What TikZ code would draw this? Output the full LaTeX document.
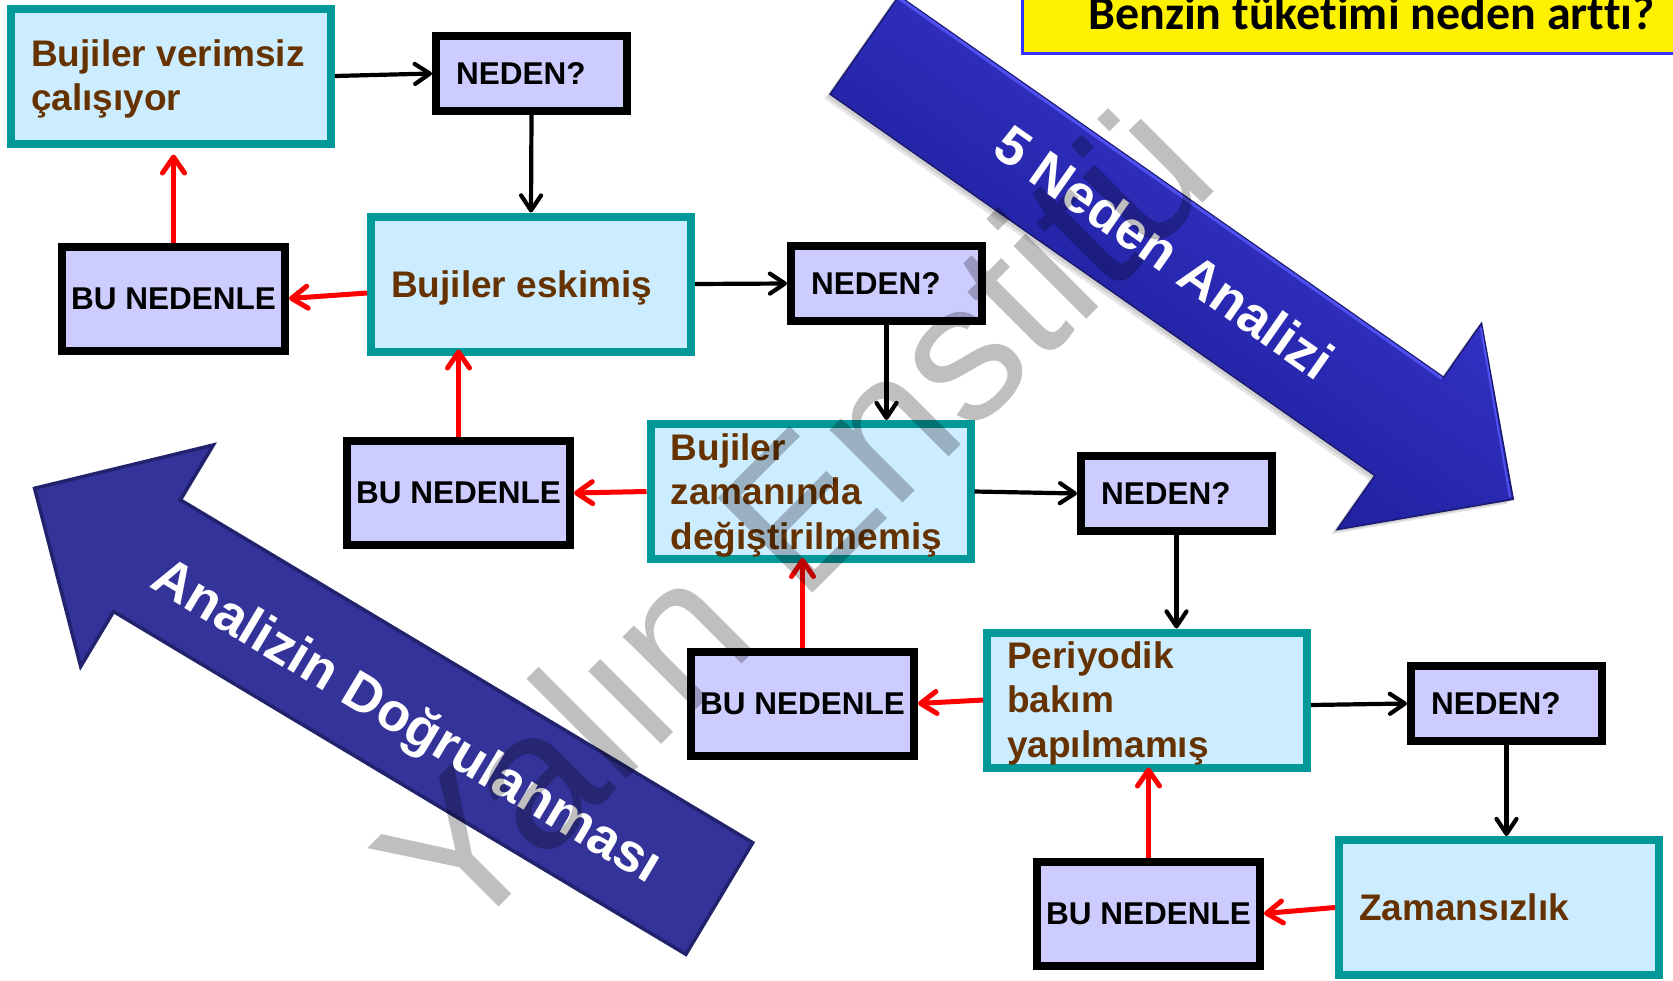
\documentclass[tikz,border=0pt]{standalone}
\usepackage{fontspec}
\setmainfont{Liberation Sans}
\newfontfamily\titlefont[Ligatures=NoCommon]{Carlito}
\usetikzlibrary{arrows.meta,calc}

\definecolor{tealb}{HTML}{009999}
\definecolor{skyf}{HTML}{CCECFF}
\definecolor{lavf}{HTML}{CCCCFF}
\definecolor{brownt}{HTML}{663300}
\definecolor{navyf}{HTML}{333399}
\definecolor{navyd}{HTML}{22226E}
\definecolor{titleb}{HTML}{3333FF}
\definecolor{blueA}{HTML}{3232C4}
\definecolor{blueB}{HTML}{2A2AB4}
\definecolor{blueC}{HTML}{2020A0}
\definecolor{blueD}{HTML}{1A1A70}
\definecolor{blueE}{HTML}{5050F0}

% outline of the "5 Neden Analizi" arrow in its own frame (u along the axis)
\def\whyarrow{(0,-60) -- (665,-60) -- (665,-126) -- (792,0) -- (665,126) -- (665,60) -- (0,60) -- cycle}

\begin{document}
\begin{tikzpicture}[x=1pt,y=-1pt,
  cause/.style={draw=tealb, fill=skyf, line width=8pt, minimum width=320pt, minimum height=135pt, inner sep=0pt},
  why/.style={draw=black, fill=lavf, line width=8pt, minimum width=191pt, minimum height=75pt, inner sep=0pt},
  hence/.style={draw=black, fill=lavf, line width=8pt, minimum width=223pt, minimum height=104pt, inner sep=0pt,
    font=\bfseries\fontsize{31.5pt}{36pt}\selectfont},
  ctext/.style={anchor=base west, inner sep=0pt, text=brownt, font=\bfseries\fontsize{37pt}{44pt}\selectfont},
  wtext/.style={anchor=base west, inner sep=0pt, font=\bfseries\fontsize{31.5pt}{36pt}\selectfont},
  fwd/.style={draw=black, line width=4.2pt, -{Straight Barb[length=15pt,width=20pt,round]}},
  back/.style={draw=red, line width=5pt, -{Straight Barb[length=16pt,width=22pt,round]}},
  bigtext/.style={text=white, inner sep=0pt, font=\bfseries\fontsize{54pt}{60pt}\selectfont},
]
\useasboundingbox (0,0) rectangle (1673,980);
\clip (0,0) rectangle (1673,980);

% title banner
\node[draw=titleb, fill=yellow, line width=2.5pt, anchor=north west,
      minimum width=690pt, minimum height=72pt] (Q) at (1021,-20) {};
\node[anchor=base west, inner sep=0pt, font=\titlefont\bfseries\fontsize{48pt}{52pt}\selectfont]
      (Qt) at (1088,29.5) {Benzin tüketimi neden arttı?};

% big arrow: 5 Neden Analizi
\begin{scope}[transform canvas={shift={(864.5,45)},rotate=-35}]
  \fill[black, opacity=0.10, shift={(-2,7)}] \whyarrow;
  \fill[black, opacity=0.10, shift={(-1,4)}] \whyarrow;
  \shade[top color=blueA, middle color=blueB, bottom color=blueC] \whyarrow;
  \draw[blueD, line width=1.5pt, line join=miter] \whyarrow;
  \draw[blueE, line width=3pt] (0,-58) -- (664,-58);
  \draw[blueE, line width=2pt] (667,-122) -- (788,0);
  \node[bigtext, anchor=base] (whylabel) at (364.5,16.7) {5 Neden Analizi};
\end{scope}

% big arrow: Analizin Doğrulanması
\draw[fill=navyf, draw=navyd, line width=3.5pt, line join=miter]
  (34.6,488.3) -- (213.3,445.0) -- (180.4,499.9) -- (752.7,842.7)
  -- (685.9,954.3) -- (113.6,611.5) -- (80.7,666.4) -- cycle;
\node[bigtext, anchor=base, rotate=-30.8] (checklabel) at (398.2,735.5) {Analizin Doğrulanması};

% cause boxes
\node[cause] (A) at (171,76) {};
\node[cause] (C) at (531,284) {};
\node[cause] (F) at (810.5,491.5) {};
\node[cause] (I) at (1147,700) {};
\node[cause] (L) at (1499,907.5) {};
% question boxes
\node[why] (B) at (531.5,73.5) {};
\node[why] (E) at (886.5,283.5) {};
\node[why] (H) at (1176.5,493.5) {};
\node[why] (K) at (1506.5,703.5) {};
% consequence boxes
\node[hence] (D) at (173.5,298.5) {BU NEDENLE};
\node[hence] (G) at (458.5,493) {BU NEDENLE};
\node[hence] (J) at (802.5,703.5) {BU NEDENLE};
\node[hence] (M) at (1148.5,913.5) {BU NEDENLE};

% texts of the cause boxes
\node[ctext] (A1) at (31,66.2) {Bujiler verimsiz};
\node[ctext] (A2) at (31,110.5) {çalışıyor};
\node[ctext] (C1) at (391,297) {Bujiler eskimiş};
\node[ctext] (F1) at (670.5,460.4) {Bujiler};
\node[ctext] (F2) at (670.5,504.7) {zamanında};
\node[ctext] (F3) at (670.5,549) {değiştirilmemiş};
\node[ctext] (I1) at (1007,668.6) {Periyodik};
\node[ctext] (I2) at (1007,712.9) {bakım};
\node[ctext] (I3) at (1007,757.2) {yapılmamış};
\node[ctext] (L1) at (1359,920.7) {Zamansızlık};

% texts of the question boxes
\node[wtext] (B1) at (456,84.8) {NEDEN?};
\node[wtext] (E1) at (811,294.8) {NEDEN?};
\node[wtext] (H1) at (1101,504.8) {NEDEN?};
\node[wtext] (K1) at (1431,714.8) {NEDEN?};

% asking why, step by step
\draw[fwd] (A.east) -- (B.west);
\draw[fwd] (B.south) -- (C.north);
\draw[fwd] (C.east) -- (E.west);
\draw[fwd] (E.south) -- (E.south |- F.north);
\draw[fwd] (F.east) -- (H.west);
\draw[fwd] (H.south) -- (H.south |- I.north);
\draw[fwd] ([yshift=-5pt]I.east) -- (K.west);
\draw[fwd] (K.south) -- (K.south |- L.north);

% checking back
\draw[back, shorten >=7pt] (D.north) -- (D.north |- A.south);
\draw[back] ([yshift=-9pt]C.west) -- (D.east);
\draw[back, shorten >=-6pt] (G.north) -- (G.north |- C.south);
\draw[back] (F.west) -- (G.east);
\draw[back, shorten >=-5pt] (J.north) -- (J.north |- F.south);
\draw[back] (I.west) -- (J.east);
\draw[back, shorten >=-4pt] (M.north) -- (M.north |- I.south);
\draw[back] (L.west) -- (M.east);

% watermark
\node[anchor=base west, rotate=45, inner sep=0pt, text=black, text opacity=0.25,
      font=\fontsize{195pt}{200pt}\selectfont] (wm) at (459,947) {Yalın Enstitü};
\end{tikzpicture}
\end{document}
